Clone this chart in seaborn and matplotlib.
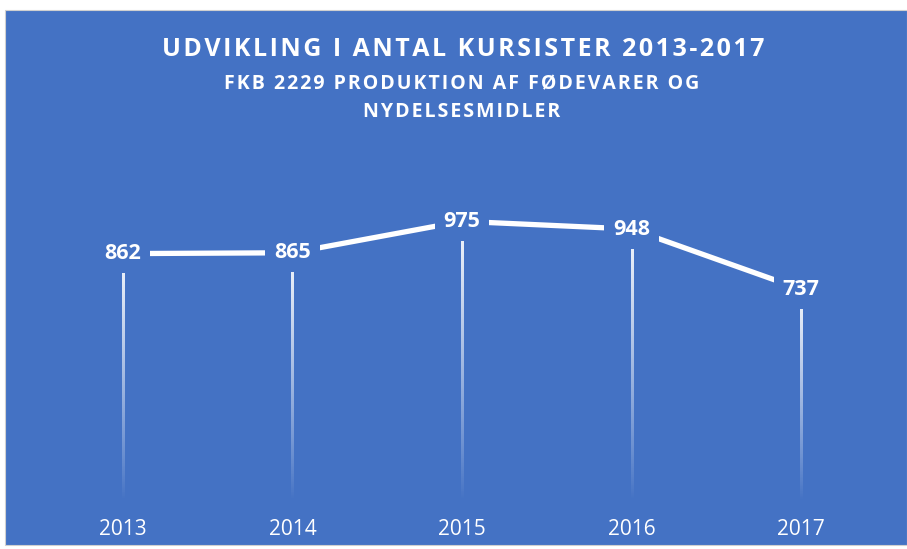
import numpy as np
import pandas as pd
import matplotlib
matplotlib.use("Agg")
import matplotlib.pyplot as plt
from matplotlib.patches import Rectangle
import seaborn as sns

# Data
years = ["2013", "2014", "2015", "2016", "2017"]
kursister = [862, 865, 975, 948, 737]

title_1 = "UDVIKLING I ANTAL KURSISTER 2013-2017"
title_2 = "FKB 2229 PRODUKTION AF FØDEVARER OG"
title_3 = "NYDELSESMIDLER"

blaa = "#4472C4"

sns.set_theme(style="white")
plt.rcParams['font.family'] = ['Open Sans', 'DejaVu Sans']


def spaced(s):
    # lidt ekstra luft mellem bogstaverne
    return "\u200a".join(s)


df = pd.DataFrame({"pos": np.arange(len(years)), "aar": years, "antal": kursister})

fig = plt.figure(figsize=(9.07, 5.49), dpi=100)
fig.patch.set_facecolor("white")
# blue chart area with small white border
fig.patches.append(Rectangle((5 / 907, 4 / 549), 902 / 907, 535 / 549,
                             transform=fig.transFigure, facecolor=blaa,
                             edgecolor="#d0d0d0", linewidth=0.8, zorder=-5))

ax = fig.add_axes([38 / 907, 1 - 500 / 549, 848 / 907, 343 / 549])
ax.set_zorder(2)
ax.set_facecolor("none")

# drop lines with fade (gradient image, white on top -> transparent at bottom)
grad = np.zeros((256, 1, 4))
grad[..., :3] = 1.0
grad[:, 0, 3] = np.linspace(0.95, 0, 256) ** 0.9
half_w = 1.1 / 169.6
for x, v in zip(df["pos"], df["antal"]):
    ax.imshow(grad, extent=(x - half_w, x + half_w, 0, v), aspect="auto",
              interpolation="bilinear", zorder=1)

sns.lineplot(data=df, x="pos", y="antal", color="white", linewidth=3.8,
             ax=ax, zorder=2, legend=False)

for x, v in zip(df["pos"], df["antal"]):
    ax.text(x, v, str(v), ha="center", va="center", color="white",
            fontsize=15.5, fontweight="bold", zorder=3,
            bbox=dict(boxstyle="square,pad=0.42", facecolor=blaa, edgecolor="none"))

ax.set_xlim(-0.5, len(years) - 0.5)
ax.set_ylim(0, 1200)
ax.set_xticks(df["pos"])
ax.set_xticklabels(years, color="white", fontsize=15)
ax.set_yticks([])
ax.tick_params(axis="x", length=0, pad=14)
ax.set_xlabel("")
ax.set_ylabel("")
sns.despine(ax=ax, left=True, bottom=True)

fig.text(463 / 907, 1 - 49 / 549, spaced(title_1), ha="center", va="center",
         color="white", fontsize=18, fontweight="bold")
fig.text(462 / 907, 1 - 84 / 549, spaced(title_2), ha="center", va="center",
         color="white", fontsize=14, fontweight="bold")
fig.text(462 / 907, 1 - 112 / 549, spaced(title_3), ha="center", va="center",
         color="white", fontsize=14, fontweight="bold")

fig.savefig("out.png", dpi=100, facecolor=fig.get_facecolor())
